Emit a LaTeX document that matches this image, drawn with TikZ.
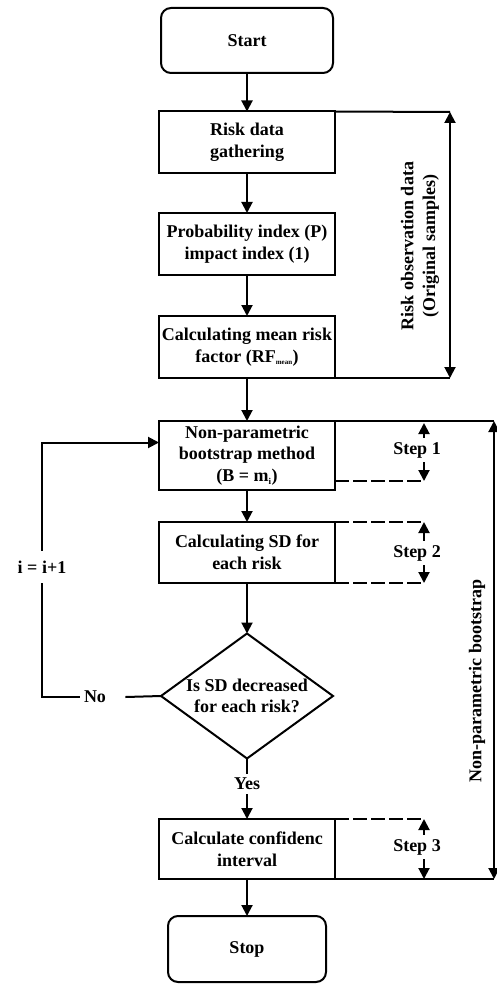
\documentclass[tikz,border=0pt]{standalone}
\usepackage{fontspec}
\setmainfont{Liberation Serif}
\usepackage{tikz}
\usetikzlibrary{shapes.geometric,arrows.meta}

\begin{document}
\begin{tikzpicture}
  [x=1pt,y=-1pt,line width=2pt,
   every node/.style={font=\fontsize{18}{21.6}\selectfont\bfseries,align=center},
   box/.style={draw,rectangle,inner sep=0pt,outer sep=0pt,minimum width=176pt,minimum height=62pt},
   term/.style={box,rounded corners=10pt,minimum width=172pt,minimum height=65pt},
   dec/.style={draw,diamond,aspect=1.376,inner sep=0pt,outer sep=0pt,minimum width=172pt,minimum height=125pt},
   arr/.style={-{Triangle[length=11pt,width=11pt]}},
   both/.style={{Triangle[length=11pt,width=11pt]}-{Triangle[length=11pt,width=11pt]}},
   dsh/.style={dash pattern=on 14pt off 4pt}]
  \useasboundingbox (0,0) rectangle (497,984);

  \node[term] (st) at (247,40.5) {Start};
  \node[box] (b1) at (247,142.5) {Risk data\\gathering};
  \node[box] (b2) at (247,244) {Probability index (P)\\impact index (1)};
  \node[box] (b3) at (247,347) {Calculating mean risk\\factor (RF\textsubscript{\fontsize{7}{7}\selectfont mean})};
  \node[box,minimum height=69pt] (b4) at (247,455.5) {Non-parametric\\bootstrap method\\(B = m\textsubscript{\fontsize{9}{9}\selectfont i})};
  \node[box,minimum height=61pt] (b5) at (247,552.5) {Calculating SD for\\each risk};
  \node[dec] (dia) at (247,696) {Is SD decreased\\for each risk?};
  \node (yes) at (247,784) {Yes};
  \node[box,minimum height=60pt] (b6) at (247,849) {Calculate confidenc\\interval};
  \node[term,minimum width=158pt,minimum height=66pt] (sp) at (247,949) {Stop};

  \foreach \from/\to in {st/b1,b1/b2,b2/b3,b3/b4,b4/b5,b5/dia,yes/b6,b6/sp}
    \draw[arr] (\from) -- (\to);
  \draw (dia) -- (yes);

  % loop back
  \node (no) at (95,697) {No};
  \node[inner ysep=9pt] (inc) at (42,567) {i = i+1};
  \draw ([xshift=15pt]no.east) -- (dia.west);
  \draw (no.west) -| (inc.south);
  \draw[arr] (inc.north) |- ([yshift=13pt]b4.west);

  % original samples
  \coordinate (o1) at (450,112);
  \coordinate (o2) at (450,378);
  \draw (b1.north east) -- (o1);
  \draw (b3.south east) -- (o2);
  \draw[both] (o1) -- (o2);
  \node[rotate=90] (obs) at (420,246) {Risk observation data\\(Original samples)};

  % bootstrap
  \coordinate (t1) at (494,421);
  \coordinate (t2) at (494,879);
  \draw (b4.north east) -- (t1);
  \draw (b6.south east) -- (t2);
  \draw[both] (t1) -- (t2);
  \node[rotate=90] (nb) at (477,681) {Non-parametric bootstrap};

  % steps
  \node (s1) at (417,450) {Step 1};
  \coordinate (s1a) at (424,423);
  \coordinate (s1b) at (424,481);
  \draw[arr] (s1a |- s1.north) -- (s1a);
  \draw[arr] (s1b |- s1.south) -- (s1b);
  \draw[dsh] (b4.east |- s1b) -- (s1b);

  \node (s2) at (417,553) {Step 2};
  \coordinate (s2a) at (424,522);
  \coordinate (s2b) at (424,583);
  \draw[arr] (s2a |- s2.north) -- (s2a);
  \draw[arr] (s2b |- s2.south) -- (s2b);
  \draw[dsh] (b5.north east) -- (s2a);
  \draw[dsh] (b5.south east) -- (s2b);

  \node (s3) at (417,847) {Step 3};
  \coordinate (s3a) at (424,819);
  \coordinate (s3b) at (424,879);
  \draw[arr] (s3a |- s3.north) -- (s3a);
  \draw[arr] (s3b |- s3.south) -- (s3b);
  \draw[dsh] (b6.north east) -- (s3a);

\end{tikzpicture}
\end{document}
